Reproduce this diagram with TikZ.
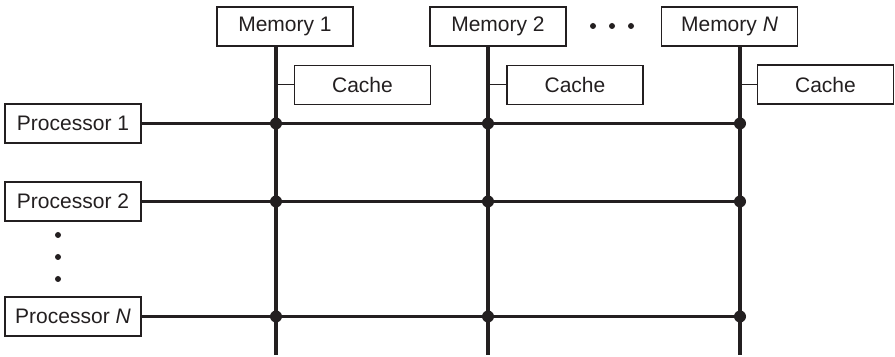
\documentclass[tikz,border=0pt]{standalone}
\usepackage{fontspec}
\setmainfont{Liberation Sans}
\usepackage{tikz}
\usetikzlibrary{positioning, calc}
\definecolor{cInk}{RGB}{35,31,32}
\tikzset{
	unitbox/.style={rectangle, draw=cInk, line width=0.7pt, minimum width=68pt, minimum height=19.5pt, inner sep=0pt, text centered, text=cInk, font=\fontsize{10.5}{12}\selectfont},
	busline/.style={draw=cInk, line width=1.9pt},
	procline/.style={draw=cInk, line width=1.2pt},
	stubline/.style={draw=cInk, line width=0.5pt},
	% junction dots
	joint/.style={fill=cInk},
}

\begin{document}
\begin{tikzpicture}[x=0.5pt, y=-0.5pt]
	\useasboundingbox (0,0) rectangle (895,357);
	% memories and caches
	\node[unitbox] (mem1) at (285,26.5) {Memory 1};
	\node[unitbox] (mem2) at (498,26.5) {Memory 2};
	\node[unitbox] (memN) at (729.5,26.5) {Memory \textit{N}};
	\node[unitbox] (cache1) at (362.5,85) {Cache};
	\node[unitbox] (cache2) at (575,85) {Cache};
	\node[unitbox] (cacheN) at (825.5,84.5) {Cache};
	% processors
	\node[unitbox] (proc1) at (73,123.5) {Processor 1};
	\node[unitbox] (proc2) at (73,201.5) {Processor 2};
	\node[unitbox] (procN) at (73,316.5) {Processor \textit{N}};
	% lower ends of the memory buses
	\coordinate (b1) at (276,355);
	\coordinate (b2) at (488,355);
	\coordinate (bN) at (740,355);
	\foreach \m/\c/\b in {mem1/cache1/b1, mem2/cache2/b2, memN/cacheN/bN}{
		\draw[busline] (\b |- \m.south) -- (\b);
		\draw[stubline] (\b |- \c.west) -- (\c.west);
	}
	\foreach \p in {proc1, proc2, procN}{
		\draw[procline] (\p.east) -- (\p.east -| bN);
		\foreach \b in {b1, b2, bN}
			\fill[joint] (\p.east -| \b) circle (3pt);
	}
	% ellipsis dots
	\foreach \x in {593, 612, 631}
		\fill[joint] (\x,26) circle (1.5pt);
	\foreach \y in {235, 257, 279}
		\fill[joint] (58,\y) circle (1.5pt);
\end{tikzpicture}
\end{document}
